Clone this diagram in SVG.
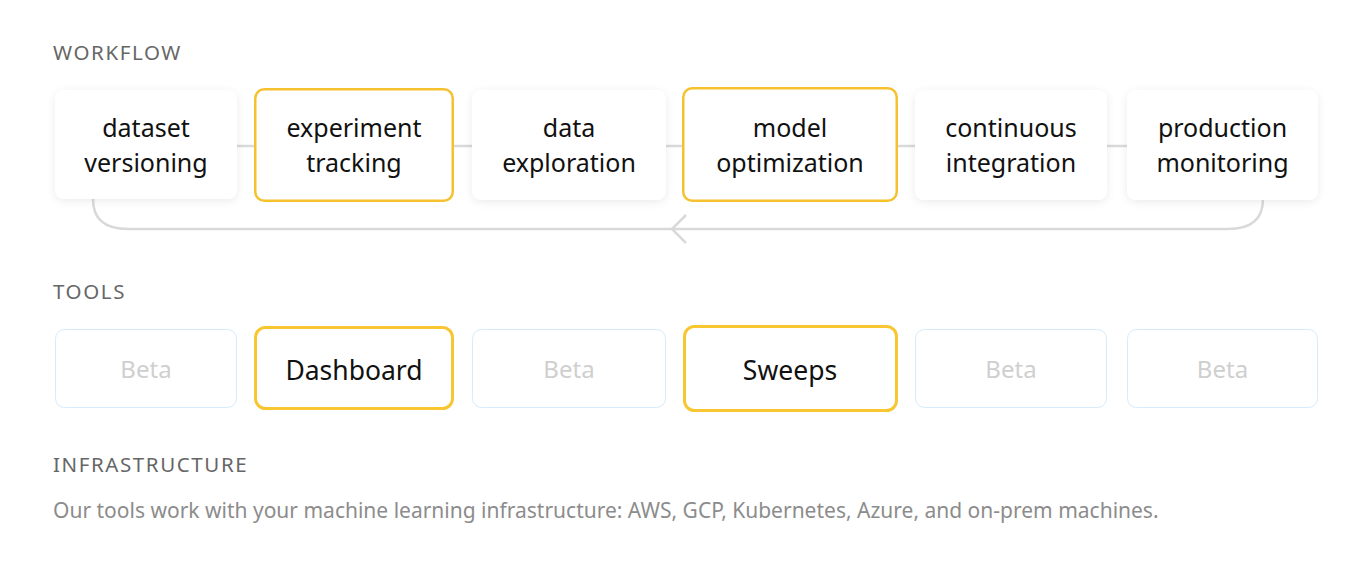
<svg xmlns="http://www.w3.org/2000/svg" width="1370" height="569" viewBox="0 0 1370 569">
<defs>
<filter id="sh" x="-20%" y="-20%" width="140%" height="150%">
<feDropShadow dx="0" dy="2" stdDeviation="4" flood-color="#000" flood-opacity="0.08"/>
</filter>
<style>
.hdr{font-family:"Noto Sans","Liberation Sans",sans-serif;font-size:20.5px;fill:#666;letter-spacing:1.6px}
.body{font-family:"Noto Sans","Liberation Sans",sans-serif;font-size:21px;fill:#8c8c8c}
.lbl{font-family:"Noto Sans","Liberation Sans",sans-serif;font-size:25px;fill:#111;text-anchor:middle}
.tl{font-family:"Noto Sans","Liberation Sans",sans-serif;font-size:26.5px;fill:#111;text-anchor:middle}
.beta{font-family:"Noto Sans","Liberation Sans",sans-serif;font-size:24px;fill:#cfcfcf;text-anchor:middle}
.wf{fill:#fff;filter:url(#sh)}
.wfh{fill:#fff;stroke:#f5c12e;stroke-width:2.5}
.tb{fill:#fff;stroke:#d6ecfa;stroke-width:1}
.th{fill:#fff;stroke:#f7c630;stroke-width:3}
.conn{fill:none;stroke:#d9d9d9;stroke-width:2.5}
</style>
</defs>
<rect width="1370" height="569" fill="#fff"/>
<text class="hdr" x="53" y="60">WORKFLOW</text>
<g id="connectors">
<line class="conn" x1="237" y1="146" x2="1127" y2="146"/>
<path class="conn" d="M93 199 Q93 229 128 229 L1228 229 Q1263 229 1263 199"/>
<path class="conn" d="M686 215 L672 229 L686 243"/>
</g>
<g id="n1"><rect class="wf" x="55" y="90" width="182" height="109" rx="9"/><text class="lbl" x="146" y="137">dataset</text><text class="lbl" x="146" y="172">versioning</text></g>
<g id="n2"><rect class="wfh" x="255.25" y="89.25" width="197.5" height="111.5" rx="9"/><text class="lbl" x="354" y="137">experiment</text><text class="lbl" x="354" y="172">tracking</text></g>
<g id="n3"><rect class="wf" x="472" y="90" width="194" height="110" rx="9"/><text class="lbl" x="569" y="137">data</text><text class="lbl" x="569" y="172">exploration</text></g>
<g id="n4"><rect class="wfh" x="683.25" y="88.25" width="213.5" height="112.5" rx="9"/><text class="lbl" x="790" y="137">model</text><text class="lbl" x="790" y="172">optimization</text></g>
<g id="n5"><rect class="wf" x="915" y="90" width="192" height="110" rx="9"/><text class="lbl" x="1011" y="137">continuous</text><text class="lbl" x="1011" y="172">integration</text></g>
<g id="n6"><rect class="wf" x="1127" y="90" width="191" height="110" rx="9"/><text class="lbl" x="1222.5" y="137">production</text><text class="lbl" x="1222.5" y="172">monitoring</text></g>
<text class="hdr" x="53" y="299">TOOLS</text>
<g id="t1"><rect class="tb" x="55.5" y="329.5" width="181" height="78" rx="9"/><text class="beta" x="146" y="378">Beta</text></g>
<g id="t2"><rect class="th" x="255.5" y="327.5" width="197" height="81" rx="10"/><text class="tl" x="354" y="380">Dashboard</text></g>
<g id="t3"><rect class="tb" x="472.5" y="329.5" width="193" height="78" rx="9"/><text class="beta" x="569" y="378">Beta</text></g>
<g id="t4"><rect class="th" x="684.5" y="326.5" width="212" height="84" rx="10"/><text class="tl" x="790" y="380">Sweeps</text></g>
<g id="t5"><rect class="tb" x="915.5" y="329.5" width="191" height="78" rx="9"/><text class="beta" x="1011" y="378">Beta</text></g>
<g id="t6"><rect class="tb" x="1127.5" y="329.5" width="190" height="78" rx="9"/><text class="beta" x="1222.5" y="378">Beta</text></g>
<text class="hdr" x="53" y="472">INFRASTRUCTURE</text>
<text class="body" x="53" y="518">Our tools work with your machine learning infrastructure: AWS, GCP, Kubernetes, Azure, and on-prem machines.</text>
</svg>
